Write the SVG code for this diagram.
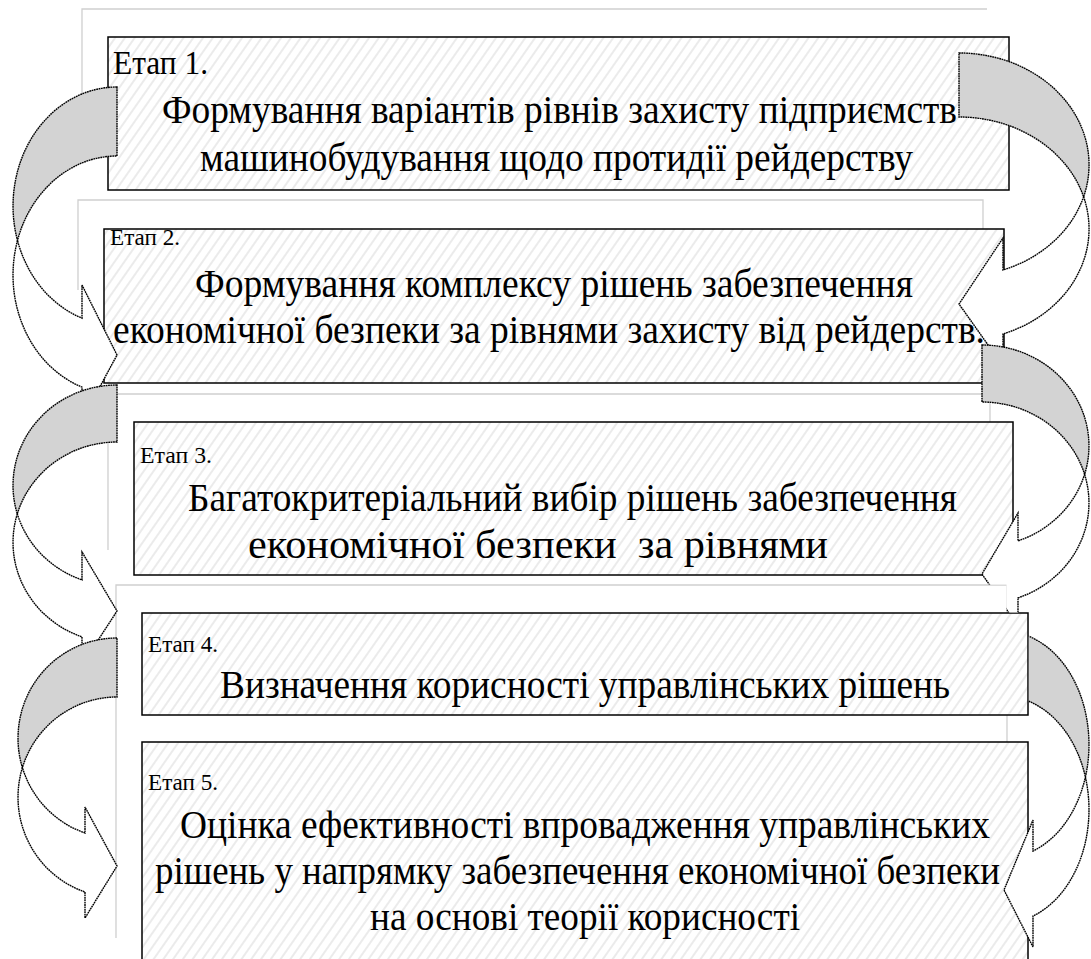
<svg xmlns="http://www.w3.org/2000/svg" width="1091" height="959" viewBox="0 0 1091 959">
<style>
.frame{fill:#fff;stroke:#cfcfcf;stroke-width:1.3}
.box{fill:url(#hatch);stroke:#000;stroke-width:1.5}
.back{fill:#d3d3d3;stroke:#000;stroke-width:1.4;stroke-dasharray:1.8 0.6}
.front{fill:#fff;stroke:#000;stroke-width:1.4;stroke-dasharray:1.8 0.6}
</style>
<defs>
<pattern id="hatch" patternUnits="userSpaceOnUse" width="8" height="8" patternTransform="rotate(35)">
<rect width="8" height="8" fill="#fff"/>
<line x1="4" y1="0" x2="4" y2="8" stroke="#d2d2d2" stroke-width="0.9"/>
</pattern>
<clipPath id="clipR2"><path d="M0,0 H1091 V959 H1028 V612.5 H1006.5 V584.5 H0 Z"/></clipPath>
<clipPath id="clipR3"><path d="M0,0 H1091 V959 H0 V716 H1028.8 V612 H0 Z"/></clipPath>
</defs>

<g id="node1">
<path class="frame" d="M82,120 V9 H987"/>
<rect class="box" x="108" y="37" width="901" height="153"/>
<text font-family="Liberation Serif, serif" fill="#000" x="113" y="74" font-size="33" textLength="95" lengthAdjust="spacingAndGlyphs">Етап 1.</text>
<text font-family="Liberation Serif, serif" fill="#000" font-size="41" x="162" y="123" textLength="795" lengthAdjust="spacingAndGlyphs">Формування варіантів рівнів захисту підприємств</text>
<text font-family="Liberation Serif, serif" fill="#000" font-size="41" x="200" y="171" textLength="713" lengthAdjust="spacingAndGlyphs">машинобудування щодо протидії рейдерству</text>
</g>

<g id="node2">
<path class="frame" d="M78,290 V200 H983 V235"/>
<rect class="box" x="104" y="229" width="900" height="154"/>
<text font-family="Liberation Serif, serif" fill="#000" x="110" y="245" font-size="23" textLength="70" lengthAdjust="spacingAndGlyphs">Етап 2.</text>
<text font-family="Liberation Serif, serif" fill="#000" font-size="41" x="195" y="297" textLength="718" lengthAdjust="spacingAndGlyphs">Формування комплексу рішень забезпечення</text>
<text font-family="Liberation Serif, serif" fill="#000" font-size="41" x="113" y="343" textLength="872" lengthAdjust="spacingAndGlyphs">економічної безпеки за рівнями захисту від рейдерств.</text>
</g>

<g id="node3">
<path class="frame" d="M108,550 V394 H990 V425"/>
<rect class="box" x="134" y="422" width="879" height="153"/>
<text font-family="Liberation Serif, serif" fill="#000" x="140" y="463" font-size="24" textLength="72" lengthAdjust="spacingAndGlyphs">Етап 3.</text>
<text font-family="Liberation Serif, serif" fill="#000" font-size="41" x="188" y="511" textLength="769" lengthAdjust="spacingAndGlyphs">Багатокритеріальний вибір рішень забезпечення</text>
<text font-family="Liberation Serif, serif" fill="#000" font-size="41" x="248" y="558" textLength="580" lengthAdjust="spacingAndGlyphs" xml:space="preserve">економічної безпеки  за рівнями</text>
</g>

<g id="node4">
<path class="frame" d="M116,938 V585 H1007 V745"/>
<rect class="box" x="142" y="613" width="886" height="102"/>
<text font-family="Liberation Serif, serif" fill="#000" x="148" y="652" font-size="24" textLength="70" lengthAdjust="spacingAndGlyphs">Етап 4.</text>
<text font-family="Liberation Serif, serif" fill="#000" font-size="41" x="220" y="698" textLength="730" lengthAdjust="spacingAndGlyphs">Визначення корисності управлінських рішень</text>
</g>

<g id="node5">
<rect class="box" x="142" y="742" width="886" height="230"/>
<text font-family="Liberation Serif, serif" fill="#000" x="148" y="790" font-size="24" textLength="70" lengthAdjust="spacingAndGlyphs">Етап 5.</text>
<text font-family="Liberation Serif, serif" fill="#000" font-size="41" x="180" y="838" textLength="810" lengthAdjust="spacingAndGlyphs">Оцінка ефективності впровадження управлінських</text>
<text font-family="Liberation Serif, serif" fill="#000" font-size="41" x="155" y="884" textLength="845" lengthAdjust="spacingAndGlyphs">рішень у напрямку забезпечення економічної безпеки</text>
<text font-family="Liberation Serif, serif" fill="#000" font-size="41" x="370" y="930" textLength="430" lengthAdjust="spacingAndGlyphs">на основі теорії корисності</text>
</g>

<g id="connectors">
<g id="arrowL1">
<path class="back" d="M117,87 A104,119 0 0 0 17.5,240.5 A104,119 0 0 1 117,156 Z"/>
<path class="front" d="M17.5,240.5 A104,119 0 0 0 82,387.1 L82,420 L117,355 L82,285 L82,318.1 A104,119 0 0 1 17.5,240.5 Z"/>
</g>
<g id="arrowR1">
<path class="back" d="M959,53 A130,111.8 0 0 1 1083.6,196.8 A130,111.8 0 0 0 959,117 Z"/>
<path class="front" d="M1083.6,196.8 A130,111.8 0 0 1 1003,334 L1003,366 L959,304 L1003,238 L1003,270 A130,111.8 0 0 0 1083.6,196.8 Z"/>
</g>
<g id="arrowL2">
<path class="back" d="M117,385 A104,100.4 0 0 0 17.3,513.9 A104,100.4 0 0 1 117,442 Z"/>
<path class="front" d="M17.3,513.9 A104,100.4 0 0 0 82,636.9 L82,665 L117,611 L82,552 L82,579.9 A104,100.4 0 0 1 17.3,513.9 Z"/>
</g>
<g id="arrowR2" clip-path="url(#clipR2)">
<path class="back" d="M982,345 A107,100.9 0 0 1 1084.6,474.4 A107,100.9 0 0 0 982,402 Z"/>
<path class="front" d="M1084.6,474.4 A107,100.9 0 0 1 1018,597.9 L1018,626 L982,574 L1018,513 L1018,540.9 A107,100.9 0 0 0 1084.6,474.4 Z"/>
</g>
<g id="arrowL3">
<path class="back" d="M117,638 A99,100.2 0 0 0 22.4,767.7 A99,100.2 0 0 1 117,697 Z"/>
<path class="front" d="M22.4,767.7 A99,100.2 0 0 0 85,892 L85,918 L117,866 L85,807 L85,833 A99,100.2 0 0 1 22.4,767.7 Z"/>
</g>
<g id="arrowR3" clip-path="url(#clipR3)">
<path class="back" d="M1004,631.4 A85,113.2 0 0 1 1085.4,777.1 A85,113.2 0 0 0 1004,696.4 Z"/>
<path class="front" d="M1085.4,777.1 A85,113.2 0 0 1 1033,916 L1033,947 L1004,890 L1033,820 L1033,851 A85,113.2 0 0 0 1085.4,777.1 Z"/>
</g>
</g>
</svg>
